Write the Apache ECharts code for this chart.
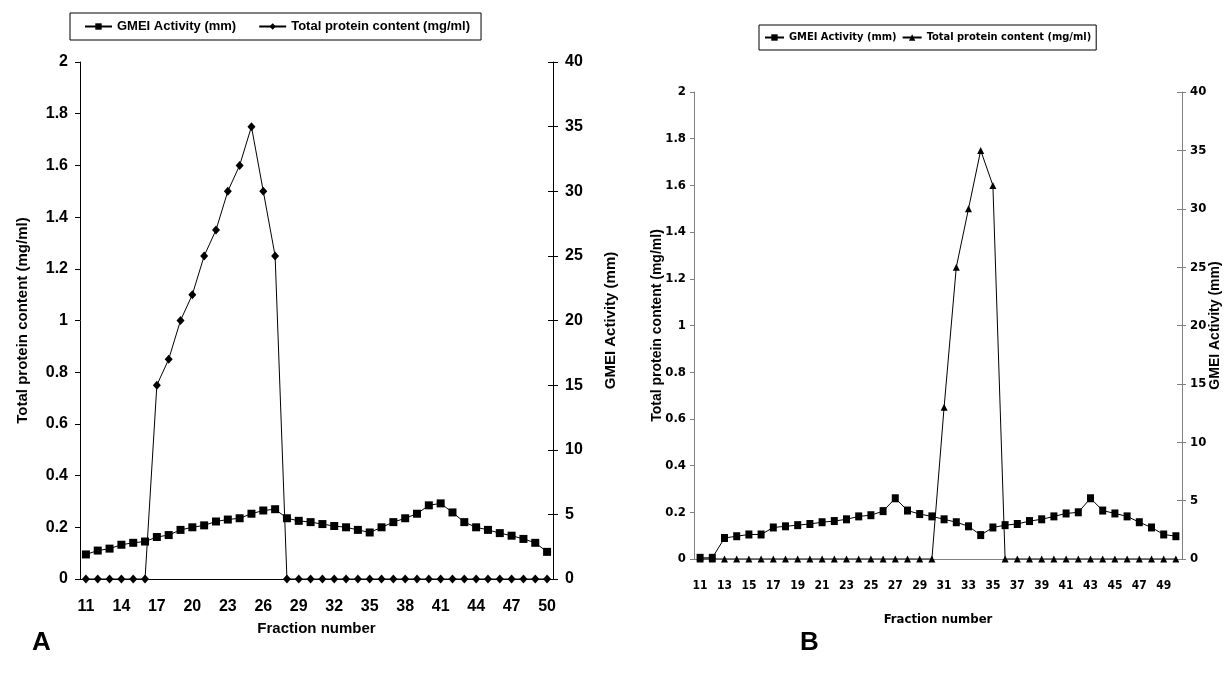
<!DOCTYPE html>
<html>
<head>
<meta charset="utf-8">
<script src="https://cdn.jsdelivr.net/npm/echarts@6/dist/echarts.min.js"></script>
<style>
  html, body { margin: 0; padding: 0; background: #fff; }
  .panel { position: absolute; left: 0; top: 0; width: 1224px; height: 676px; }
</style>
</head>
<body>
<div id="chartA" class="panel"></div>
<div id="chartB" class="panel"></div>
<script>
// fractions 11..50
const fractions = ["11","12","13","14","15","16","17","18","19","20","21","22","23","24","25","26","27","28","29","30",
  "31","32","33","34","35","36","37","38","39","40","41","42","43","44","45","46","47","48","49","50"];

// Panel A
const gmeiA = [1.9, 2.2, 2.35, 2.65, 2.8, 2.9, 3.25, 3.4, 3.8, 4.0, 4.15, 4.45, 4.6, 4.7, 5.05, 5.3, 5.4, 4.7, 4.5, 4.4,
  4.25, 4.1, 4.0, 3.8, 3.6, 4.0, 4.4, 4.7, 5.05, 5.7, 5.85, 5.15, 4.4, 4.0, 3.8, 3.55, 3.35, 3.1, 2.8, 2.1];
const proteinA = [0, 0, 0, 0, 0, 0, 0.75, 0.85, 1.0, 1.1, 1.25, 1.35, 1.5, 1.6, 1.75, 1.5, 1.25, 0, 0, 0,
  0, 0, 0, 0, 0, 0, 0, 0, 0, 0, 0, 0, 0, 0, 0, 0, 0, 0, 0, 0];

// Panel B
const gmeiB = [0.1, 0.1, 1.8, 1.95, 2.1, 2.1, 2.7, 2.8, 2.9, 3.0, 3.15, 3.25, 3.4, 3.65, 3.75, 4.1, 5.2, 4.15, 3.85, 3.65,
  3.4, 3.15, 2.8, 2.05, 2.7, 2.9, 3.0, 3.25, 3.4, 3.65, 3.9, 4.0, 5.2, 4.15, 3.9, 3.65, 3.15, 2.7, 2.1, 1.95];
const proteinB = [0, 0, 0, 0, 0, 0, 0, 0, 0, 0, 0, 0, 0, 0, 0, 0, 0, 0, 0, 0,
  0.65, 1.25, 1.5, 1.75, 1.6, 0, 0, 0, 0, 0, 0, 0, 0, 0, 0, 0, 0, 0, 0, 0];

const GMEI = "GMEI Activity (mm)";
const PROT = "Total protein content (mg/ml)";

const arial = "Arial, 'Liberation Sans', sans-serif";
const narrow = "'Liberation Sans Narrow', 'Arial Narrow', 'DejaVu Sans Condensed', sans-serif";

// inner half of the crossing ticks on the right-hand axis
const innerTicks = (color) => ({
  type: "value",
  min: 0,
  max: 40,
  interval: 5,
  position: "right",
  axisLine: { show: false },
  axisTick: { show: true, inside: true, length: 5, lineStyle: { color } },
  axisLabel: { show: false },
  splitLine: { show: false },
});

/* ---------------- chart A ---------------- */
const chartA = echarts.init(document.getElementById("chartA"));
chartA.setOption({
  animation: false,
  backgroundColor: "transparent",
  textStyle: { fontFamily: arial, color: "#000" },
  legend: {
    data: [GMEI, PROT],
    left: 70,
    top: 13,
    padding: [7, 11, 7, 14],
    itemGap: 22,
    itemWidth: 27,
    itemHeight: 8,
    borderColor: "#000",
    borderWidth: 1,
    textStyle: { fontFamily: arial, fontWeight: "bold", fontSize: 13, color: "#000" },
  },
  grid: { left: 80, right: 671, top: 62, bottom: 97, containLabel: false, outerBoundsMode: "none" },
  xAxis: {
    type: "category",
    data: fractions,
    boundaryGap: true,
    name: "Fraction number",
    nameLocation: "middle",
    nameGap: 42,
    nameTextStyle: { fontFamily: arial, fontWeight: "bold", fontSize: 15, color: "#000" },
    axisLine: { lineStyle: { color: "#000", width: 1 } },
    axisTick: { interval: 0, length: 5, lineStyle: { color: "#000" } },
    axisLabel: { interval: 2, margin: 20, fontFamily: arial, fontWeight: "bold", fontSize: 16, color: "#000" },
    splitLine: { show: false },
  },
  yAxis: [
    {
      type: "value",
      min: 0,
      max: 2,
      interval: 0.2,
      position: "left",
      name: PROT,
      nameLocation: "middle",
      nameRotate: 90,
      nameGap: 50,
      nameMoveOverlap: false,
      nameTextStyle: { fontFamily: arial, fontWeight: "bold", fontSize: 15, color: "#000" },
      axisLine: { show: true, lineStyle: { color: "#000" } },
      axisTick: { show: true, length: 5, lineStyle: { color: "#000" } },
      axisLabel: { margin: 12, fontFamily: arial, fontWeight: "bold", fontSize: 16, color: "#000" },
      splitLine: { show: false },
    },
    {
      type: "value",
      min: 0,
      max: 40,
      interval: 5,
      position: "right",
      name: GMEI,
      nameLocation: "middle",
      nameRotate: 90,
      nameGap: 50,
      nameMoveOverlap: false,
      nameTextStyle: { fontFamily: arial, fontWeight: "bold", fontSize: 15, color: "#000" },
      axisLine: { show: true, lineStyle: { color: "#000" } },
      axisTick: { show: true, length: 5, lineStyle: { color: "#000" } },
      axisLabel: { margin: 12, fontFamily: arial, fontWeight: "bold", fontSize: 16, color: "#000" },
      splitLine: { show: false },
    },
    innerTicks("#000"),
  ],
  series: [
    {
      name: GMEI,
      type: "line",
      yAxisIndex: 1,
      data: gmeiA,
      symbol: "rect",
      symbolSize: 8,
      showAllSymbol: true,
      itemStyle: { color: "#000" },
      lineStyle: { color: "#000", width: 1 },
    },
    {
      name: PROT,
      type: "line",
      yAxisIndex: 0,
      data: proteinA,
      symbol: "diamond",
      symbolSize: [8, 9],
      showAllSymbol: true,
      itemStyle: { color: "#000" },
      lineStyle: { color: "#000", width: 1 },
    },
  ],
  graphic: [
    {
      type: "text",
      left: 32,
      top: 630,
      style: { text: "A", fontFamily: arial, fontWeight: "bold", fontSize: 26, fill: "#000" },
    },
  ],
});

/* ---------------- chart B ---------------- */
const chartB = echarts.init(document.getElementById("chartB"));
chartB.setOption({
  animation: false,
  backgroundColor: "transparent",
  textStyle: { fontFamily: narrow, color: "#000" },
  legend: {
    data: [GMEI, PROT],
    left: 759,
    top: 25,
    padding: [7, 5, 7, 5],
    itemGap: 5,
    itemWidth: 19,
    itemHeight: 8,
    borderColor: "#000",
    borderWidth: 1,
    textStyle: { fontFamily: narrow, fontWeight: "bold", fontSize: 11, color: "#000" },
  },
  grid: { left: 694, right: 42, top: 92, bottom: 117, containLabel: false, outerBoundsMode: "none" },
  xAxis: {
    type: "category",
    data: fractions,
    boundaryGap: true,
    name: "Fraction number",
    nameLocation: "middle",
    nameGap: 54,
    nameTextStyle: { fontFamily: narrow, fontWeight: "bold", fontSize: 13, color: "#000" },
    axisLine: { lineStyle: { color: "#808080", width: 1 } },
    axisTick: { interval: 0, length: 5, lineStyle: { color: "#808080" } },
    axisLabel: { interval: 1, margin: 21, fontFamily: narrow, fontWeight: "bold", fontSize: 12, color: "#000" },
    splitLine: { show: false },
  },
  yAxis: [
    {
      type: "value",
      min: 0,
      max: 2,
      interval: 0.2,
      position: "left",
      name: PROT,
      nameLocation: "middle",
      nameRotate: 90,
      nameGap: 30,
      nameMoveOverlap: false,
      nameTextStyle: { fontFamily: arial, fontWeight: "bold", fontSize: 14, color: "#000" },
      axisLine: { show: true, lineStyle: { color: "#808080" } },
      axisTick: { show: true, length: 4, lineStyle: { color: "#808080" } },
      axisLabel: { margin: 8, fontFamily: narrow, fontWeight: "bold", fontSize: 13, color: "#000" },
      splitLine: { show: false },
    },
    {
      type: "value",
      min: 0,
      max: 40,
      interval: 5,
      position: "right",
      name: GMEI,
      nameLocation: "middle",
      nameRotate: 90,
      nameGap: 26,
      nameMoveOverlap: false,
      nameTextStyle: { fontFamily: arial, fontWeight: "bold", fontSize: 14, color: "#000" },
      axisLine: { show: true, lineStyle: { color: "#808080" } },
      axisTick: { show: true, length: 4, lineStyle: { color: "#808080" } },
      axisLabel: { margin: 8, fontFamily: narrow, fontWeight: "bold", fontSize: 13, color: "#000" },
      splitLine: { show: false },
    },
    innerTicks("#808080"),
  ],
  series: [
    {
      name: GMEI,
      type: "line",
      yAxisIndex: 1,
      data: gmeiB,
      symbol: "rect",
      symbolSize: [7, 8],
      showAllSymbol: true,
      itemStyle: { color: "#000" },
      lineStyle: { color: "#000", width: 1 },
    },
    {
      name: PROT,
      type: "line",
      yAxisIndex: 0,
      data: proteinB,
      symbol: "triangle",
      symbolSize: 7,
      showAllSymbol: true,
      itemStyle: { color: "#000" },
      lineStyle: { color: "#000", width: 1 },
    },
  ],
  graphic: [
    {
      type: "text",
      left: 800,
      top: 630,
      style: { text: "B", fontFamily: arial, fontWeight: "bold", fontSize: 26, fill: "#000" },
    },
  ],
});

window.addEventListener("resize", () => {
  chartA.resize();
  chartB.resize();
});
</script>
</body>
</html>
